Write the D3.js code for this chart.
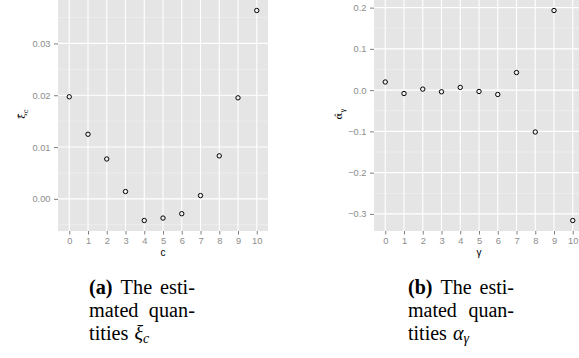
<!DOCTYPE html>
<html>
<head>
<meta charset="utf-8">
<script src="https://cdn.jsdelivr.net/npm/d3@7"></script>
<style>
  body { margin: 0; background: white; }
  svg { display: block; }
  .tick text { font-family: "Liberation Sans", Arial, sans-serif; }
  .cap { font-family: "Liberation Serif", "Times New Roman", Times, serif; font-size: 20px; }
</style>
</head>
<body>
<div id="chart"></div>
<script>
// data
const idx = [0, 1, 2, 3, 4, 5, 6, 7, 8, 9, 10];
const xiValues = [0.0197, 0.01247, 0.0077, 0.00142, -0.00417, -0.0037, -0.00286, 0.00064, 0.0083, 0.0195, 0.03635];
const alphaValues = [0.0197, -0.0082, 0.0025, -0.004, 0.0066, -0.0033, -0.0106, 0.0426, -0.1015, 0.193, -0.316];
const xiTicks = [0.00, 0.01, 0.02, 0.03];
const alphaTicks = [-0.3, -0.2, -0.1, 0.0, 0.1, 0.2];

const W = 579, H = 358;
const svg = d3.select("#chart").append("svg").attr("width", W).attr("height", H);

function panel(opt) {
  const g = svg.append("g");
  const x = d3.scaleLinear([-0.6, 10.6], [opt.left, opt.left + 210]);
  const ext = d3.extent(opt.values);
  const pad = (ext[1] - ext[0]) * 0.05;
  const y = d3.scaleLinear([ext[0] - pad, ext[1] + pad], [231, 0]);

  g.append("rect")
    .attr("x", opt.left).attr("y", 0)
    .attr("width", 210).attr("height", 231)
    .attr("fill", "#e5e5e5");

  // minor grid
  const step = opt.ticks[1] - opt.ticks[0];
  const minor = opt.ticks.map((t) => t + step / 2).concat([opt.ticks[0] - step / 2])
    .filter((v) => y(v) > 0 && y(v) < 231);
  g.selectAll(".minor").data(minor).join("line")
    .attr("x1", opt.left).attr("x2", opt.left + 210)
    .attr("y1", (d) => y(d)).attr("y2", (d) => y(d))
    .attr("stroke", "#f2f2f2").attr("stroke-width", 0.6);

  // major grid
  g.selectAll(".hmaj").data(opt.ticks).join("line")
    .attr("x1", opt.left).attr("x2", opt.left + 210)
    .attr("y1", (d) => y(d)).attr("y2", (d) => y(d))
    .attr("stroke", "white").attr("stroke-width", 1.1);
  g.selectAll(".vmaj").data(idx).join("line")
    .attr("x1", (d) => x(d)).attr("x2", (d) => x(d))
    .attr("y1", 0).attr("y2", 231)
    .attr("stroke", "white").attr("stroke-width", 1.1);

  // axes
  const ax = g.append("g").attr("transform", "translate(0,231)")
    .call(d3.axisBottom(x).tickValues(idx).tickFormat(d3.format("d")).tickSize(3.5).tickPadding(3));
  const ay = g.append("g").attr("transform", `translate(${opt.left},0)`)
    .call(d3.axisLeft(y).tickValues(opt.ticks).tickFormat(d3.format(opt.fmt)).tickSize(4).tickPadding(3.5));
  [ax, ay].forEach((a) => {
    a.select(".domain").remove();
    a.selectAll(".tick line").attr("stroke", "#7f7f7f");
    a.selectAll(".tick text").attr("fill", "#8c8c8c").attr("font-size", 9.3);
  });
  ay.selectAll(".tick text").text((d) => d3.format(opt.fmt)(d).replace("-", "\u2212"));

  // points
  g.selectAll("circle").data(idx).join("circle")
    .attr("cx", (d) => x(d))
    .attr("cy", (d) => y(opt.values[d]))
    .attr("r", 2.2)
    .attr("fill", "none")
    .attr("stroke", "black")
    .attr("stroke-width", 1);

  // axis titles
  g.append("text")
    .attr("x", opt.left + 105).attr("y", 256)
    .attr("text-anchor", "middle")
    .attr("font-family", "Liberation Sans, Arial, sans-serif")
    .attr("font-size", 10)
    .text(opt.xTitle);

  const yl = g.append("text")
    .attr("transform", `translate(${opt.yTitleX},114) rotate(-90)`)
    .attr("text-anchor", "middle")
    .attr("font-family", "DejaVu Serif, serif")
    .attr("font-size", 10);
  yl.append("tspan").text(opt.yTitle);
  yl.append("tspan").attr("dy", 3).attr("font-size", 7).text(opt.ySub);

  // caption: justified lines, words squeezed to the typeset width
  const cap = svg.append("g").attr("class", "cap");
  const len = (s) => s.node().getComputedTextLength();
  const lines = [
    { y: 294, words: [opt.tag, "The", "esti-"], bold: 0 },
    { y: 317, words: ["mated", "quan-"] }
  ];
  const made = lines.map((ln) => ln.words.map((w, i) =>
    cap.append("text").attr("y", ln.y)
      .attr("font-weight", ln.bold === i ? "bold" : null)
      .text(w)));
  const k = 90 / d3.sum(made[0], len);
  made.forEach((ws) => {
    const widths = ws.map((s) => len(s) * k);
    const gap = (106 - d3.sum(widths)) / (ws.length - 1);
    let cx = opt.capX;
    ws.forEach((s, i) => {
      s.attr("x", cx).attr("textLength", widths[i]).attr("lengthAdjust", "spacingAndGlyphs");
      cx += widths[i] + gap;
    });
  });

  const w3 = cap.append("text").attr("x", opt.capX).attr("y", 340).text("tities");
  const w3len = len(w3) * k;
  w3.attr("textLength", w3len).attr("lengthAdjust", "spacingAndGlyphs");
  const sym = cap.append("text").attr("x", opt.capX + w3len + 6).attr("y", 340)
    .attr("font-style", "italic");
  sym.append("tspan").text(opt.capSym);
  sym.append("tspan").attr("font-size", 14).attr("dy", 3).text(opt.capSub);
}

panel({
  left: 58, values: xiValues, ticks: xiTicks, fmt: ".2f",
  xTitle: "c", yTitle: "\u03BE\u0302", ySub: "c", yTitleX: 25,
  capX: 89, tag: "(a)", capSym: "\u03BE", capSub: "c"
});
panel({
  left: 374, values: alphaValues, ticks: alphaTicks, fmt: ".1f",
  xTitle: "\u03B3", yTitle: "\u03B1\u0302", ySub: "\u03B3", yTitleX: 342,
  capX: 408, tag: "(b)", capSym: "\u03B1", capSub: "\u03B3"
});
</script>
</body>
</html>
